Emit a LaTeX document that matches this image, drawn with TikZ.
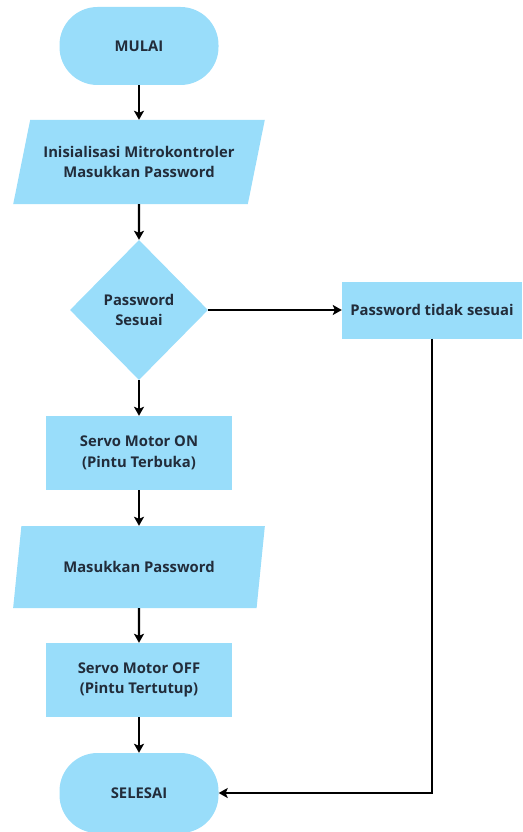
\documentclass[tikz,border=0pt]{standalone}
\usepackage{fontspec}
\setmainfont{Open Sans}
\usepackage{tikz}
\usetikzlibrary{arrows.meta,shapes.geometric,positioning}

\definecolor{boxblue}{RGB}{153,221,250}
\definecolor{inktext}{RGB}{34,44,58}

\begin{document}
\begin{tikzpicture}[x=1pt,y=-1pt,
    terminal/.style={rectangle, rounded corners=38pt, minimum width=159pt, minimum height=78pt},
    io/.style={trapezium, trapezium left angle=65, trapezium right angle=115,
       trapezium stretches=true, minimum width=252pt, minimum height=84pt},
    process/.style={rectangle, minimum width=186pt, minimum height=74pt},
    decision/.style={diamond, minimum width=138pt, minimum height=140pt},
    flow/.style={draw, line width=2.2pt, -{Stealth[length=9pt,width=10pt,inset=2pt]}}]
    \useasboundingbox (0,0) rectangle (522,832);

    %Blocks
     \begin{scope}[every node/.style={fill=boxblue, text=inktext, align=center,
        inner sep=0pt, font=\bfseries\fontsize{14.8}{20.5}\selectfont}]
       \node[terminal] (mulai) at (139,46) {MULAI};
       \node[io] (init) at (139,162) {Inisialisasi Mitrokontroler\\Masukkan Password};
       \node[decision] (cek) at (139,310) {Password\\Sesuai};
       \node[process, minimum width=180pt, minimum height=57pt] (salah) at (432,310) {Password tidak sesuai};
       \node[process] (buka) at (139,453) {Servo Motor ON\\(Pintu Terbuka)};
       \node[io, minimum height=82pt] (input) at (139,567) {Masukkan Password};
       \node[process] (tutup) at (139,680) {Servo Motor OFF\\(Pintu Tertutup)};
       \node[terminal, minimum height=80pt] (selesai) at (139,793) {SELESAI};
    \end{scope}

    %Arrows
    \begin{scope}[every edge/.style={flow}]
      \path (mulai) edge (init);
      \path (init) edge (cek);
      \path (cek) edge (salah);
      \path (cek) edge (buka);
      \path (buka) edge (input);
      \path (input) edge (tutup);
      \path (tutup) edge (selesai);
    \end{scope}
    \draw[flow] (salah.south) |- (selesai.east);
  \end{tikzpicture}
\end{document}
